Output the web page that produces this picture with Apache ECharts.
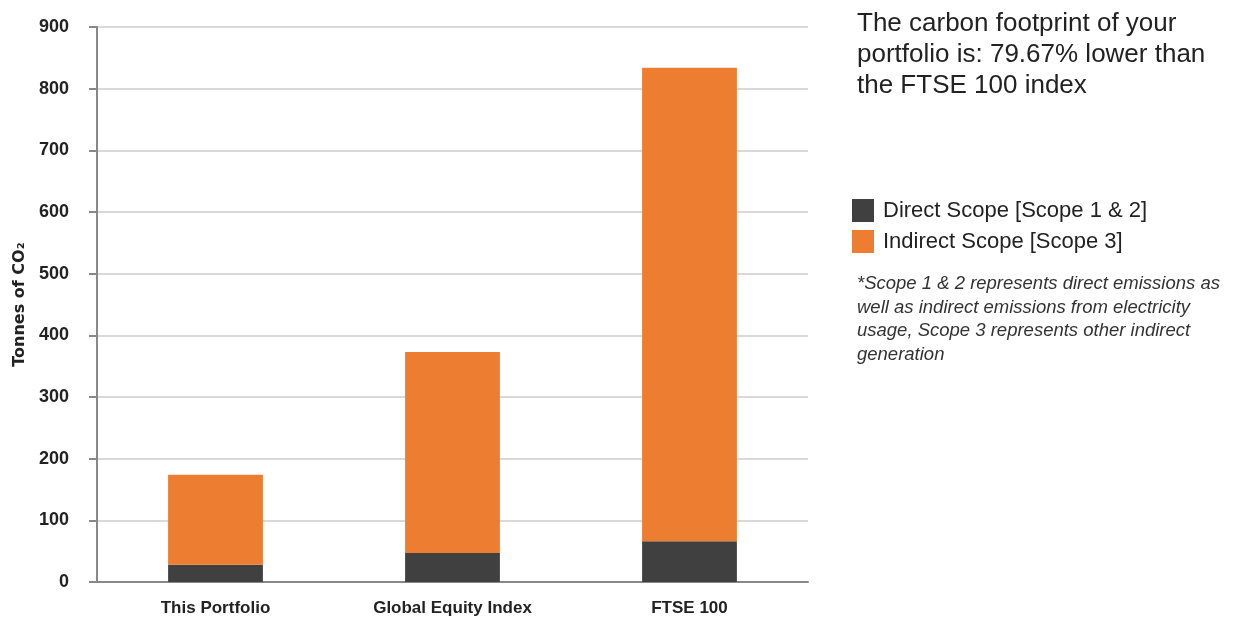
<!DOCTYPE html>
<html><head><meta charset="utf-8">
<script src="https://cdn.jsdelivr.net/npm/echarts@6/dist/echarts.min.js"></script>
<style>html,body{margin:0;padding:0;background:#fff}#c{width:1245px;height:617px}</style>
</head><body><div id="c"></div>
<script>
const categories = ['This Portfolio', 'Global Equity Index', 'FTSE 100'];
const directScope = [28, 47, 66];
const indirectScope = [146, 326, 768];
const yTicks = [0, 100, 200, 300, 400, 500, 600, 700, 800, 900];
const seriesNames = ['Direct Scope [Scope 1 & 2]', 'Indirect Scope [Scope 3]'];
const headline = ['The carbon footprint of your', 'portfolio is: 79.67% lower than', 'the FTSE 100 index'];
const noteLines = ['*Scope 1 & 2 represents direct emissions as', 'well as indirect emissions from electricity', 'usage, Scope 3 represents other indirect', 'generation'];

const chart = echarts.init(document.getElementById('c'));
const font = 'Liberation Sans, Arial, sans-serif';
chart.setOption({
  animation: false,
  textStyle: { fontFamily: font },
  grid: { left: 97, right: 437, top: 27, bottom: 35 },
  legend: {
    orient: 'vertical', left: 847, top: 194, itemWidth: 22, itemHeight: 23, itemGap: 8,
    icon: 'rect',
    textStyle: { fontSize: 22, color: '#222', fontFamily: font, padding: [0, 0, 0, 4] },
    data: seriesNames
  },
  xAxis: {
    type: 'category', data: categories,
    axisLine: { lineStyle: { color: '#888', width: 2 } },
    axisTick: { show: false },
    axisLabel: { fontSize: 17, fontWeight: 'bold', color: '#222', margin: 18 }
  },
  yAxis: {
    type: 'value', min: yTicks[0], max: yTicks[yTicks.length - 1], interval: 100,
    name: 'Tonnes of CO\u2082', nameLocation: 'middle', nameGap: 64, nameRotate: 90,
    nameTextStyle: { fontSize: 16, fontWeight: 'bold', color: '#222', fontFamily: 'DejaVu Sans, sans-serif' },
    axisLine: { show: true, lineStyle: { color: '#888', width: 2 } },
    axisTick: { show: true, length: 8, lineStyle: { color: '#888', width: 2 } },
    axisLabel: { fontSize: 18, fontWeight: 'bold', color: '#222', margin: 28 },
    splitLine: { lineStyle: { color: '#d9d9d9', width: 2 } }
  },
  series: [
    { name: seriesNames[0], type: 'bar', stack: 's', data: directScope, barWidth: '40%',
      itemStyle: { color: '#404040' } },
    { name: seriesNames[1], type: 'bar', stack: 's', data: indirectScope, barWidth: '40%',
      itemStyle: { color: '#ED7D31' } }
  ],
  graphic: [
    { type: 'text', left: 857, top: 8, style: { text: headline.join('\n'), font: '26px ' + font, fill: '#222', lineHeight: 31 } },
    { type: 'text', left: 857, top: 272, style: { text: noteLines.join('\n'), font: 'italic 18.5px ' + font, fill: '#333', lineHeight: 23.7 } }
  ]
});
</script></body></html>
